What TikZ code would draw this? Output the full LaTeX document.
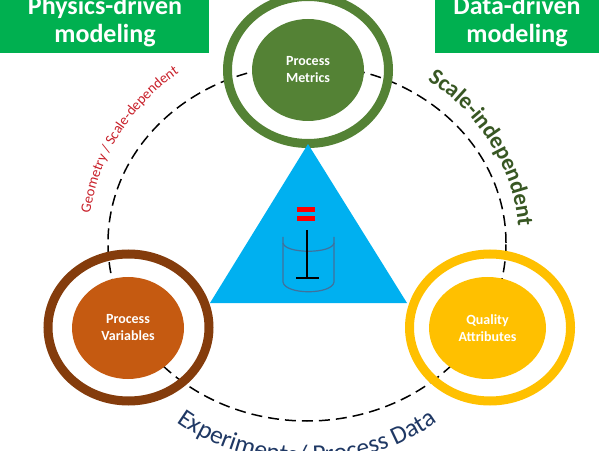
\documentclass[tikz,border=0pt]{standalone}
\usepackage{fontspec}
\setmainfont{Carlito}
\usetikzlibrary{shapes.geometric,decorations.text}
\definecolor{grn}{HTML}{00B050}
\definecolor{metric}{HTML}{548235}
\definecolor{brn}{HTML}{843C0C}
\definecolor{org}{HTML}{C55A11}
\definecolor{gold}{HTML}{FFC000}
\definecolor{sky}{HTML}{00B0F0}
\definecolor{beak}{HTML}{41719C}
\definecolor{navy}{HTML}{1F3864}
\definecolor{dgrn}{HTML}{385723}
\definecolor{redt}{HTML}{C8202A}
\tikzset{
  x=1pt,y=1pt,
  headbox/.style={fill=grn,draw=none,inner sep=0pt,minimum height=53pt,anchor=north west},
  headtext/.style={font=\fontsize{26}{28}\selectfont\bfseries,text=white,align=center,inner sep=0pt},
  ring/.style={ellipse,draw=#1,line width=9pt,fill=none,minimum width=161pt,minimum height=147pt,inner sep=0pt,outer sep=0pt},
  core/.style={ellipse,fill=#1,draw=none,minimum width=112pt,minimum height=102pt,inner sep=0pt,text=white,align=center,font=\fontsize{14}{17}\selectfont\bfseries},
}
\begin{document}
\begin{tikzpicture}
\useasboundingbox (0,0) rectangle (599,450);
\clip (0,0) rectangle (599,450);
\draw[black,line width=1.5pt,dash pattern=on 11pt off 6pt] (307,207) ellipse [x radius=199,y radius=178];
\node[headbox,minimum width=209pt] (hl) at (0,450) {};
\node[headbox,minimum width=164pt] (hr) at (435,450) {};
\node[headtext] (hlt) at (105,428) {Physics-driven\\modeling};
\node[headtext] (hrt) at (517,428) {Data-driven\\modeling};
\node[ring=metric] (rt) at (308,380) {};
\node[ring=brn] (rl) at (128.5,122.5) {};
\node[ring=gold] (rr) at (490,122.5) {};
\node[core=metric] (pm) at (308,380) {Process\\Metrics};
\node[core=org] (pv) at (128,122) {Process\\Variables};
\node[core=gold,minimum width=117pt] (qa) at (487.5,122) {Quality\\Attributes};
\fill[sky] (308,306) -- (407,147) -- (210,147) -- cycle;
\draw[beak,line width=1.2pt] (283,213) -- (283,168) .. controls (285,155) and (332,155) .. (334,168) -- (334,213);
\draw[beak,line width=1.2pt] (283,207) .. controls (285,196) and (332,196) .. (334,207);
\draw[black,line width=1.2pt] (307,220) -- (307,172);
\draw[black,line width=1.2pt] (296,172) -- (319,172);
\fill[red] (297,238) rectangle (315,243);
\fill[red] (297,229) rectangle (315,234);
\path[decorate,decoration={text along path,text align=center,text={|\fontsize{23}{24}\selectfont\bfseries\color{dgrn}|Scale-independent}}]
  plot[domain=58:2,samples=40] ({307+212*cos(\x)},{207+198*sin(\x)});
\path[decorate,decoration={text along path,text align=center,text={|\fontsize{14.5}{15}\selectfont\color{redt}|Geometry / Scale-dependent}}]
  plot[domain=173:124,samples=40] ({303+215*cos(\x)},{207+208*sin(\x)});
\path[decorate,decoration={text along path,text align=center,text={|\fontsize{25.5}{26}\selectfont\color{navy}|Experiments/ Process Data}}]
  plot[domain=228:312,samples=40] ({307+225*cos(\x)},{207+220*sin(\x)});
\end{tikzpicture}
\end{document}
